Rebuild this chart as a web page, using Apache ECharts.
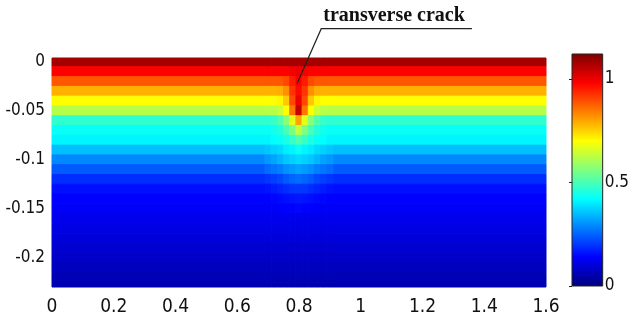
<!DOCTYPE html>
<html>
<head>
<meta charset="utf-8">
<script src="https://cdn.jsdelivr.net/npm/echarts@6/dist/echarts.min.js"></script>
<style>
  html, body { margin: 0; padding: 0; background: #fff; }
  #chart { width: 632px; height: 323px; }
</style>
</head>
<body>
<div id="chart"></div>
<script>
// depth of every row of cells (row centre, y axis)
const depths = [0, -0.01, -0.02, -0.03, -0.04, -0.05, -0.06, -0.07, -0.08, -0.09, -0.1, -0.11,
  -0.12, -0.13, -0.14, -0.15, -0.16, -0.17, -0.18, -0.19, -0.2, -0.21, -0.22, -0.23];
// field value of each row away from the crack
const baseValues = [1.08, 0.98, 0.885, 0.785, 0.7, 0.62, 0.47, 0.43, 0.41, 0.35, 0.29, 0.24,
  0.19, 0.155, 0.14, 0.13, 0.12, 0.11, 0.1, 0.09, 0.08, 0.07, 0.06, 0.055];
// columns around the crack (column centre, x axis)
const crackX = [0.7, 0.72, 0.74, 0.76, 0.78, 0.8, 0.82, 0.84, 0.86, 0.88, 0.9];
// values of those columns, for the first rows (depth 0 .. -0.15)
const crackValues = [
  [1.08, 1.08, 1.08, 1.08, 1.08, 1.08, 1.08, 1.08, 1.08, 1.08, 1.08],
  [0.98, 0.98, 0.98, 0.98, 0.99, 1.0, 0.99, 0.98, 0.98, 0.98, 0.98],
  [0.885, 0.885, 0.885, 0.9, 0.95, 0.98, 0.95, 0.9, 0.885, 0.885, 0.885],
  [0.785, 0.785, 0.79, 0.82, 0.92, 0.97, 0.92, 0.82, 0.79, 0.785, 0.785],
  [0.7, 0.7, 0.71, 0.76, 0.9, 1.0, 0.9, 0.76, 0.71, 0.7, 0.7],
  [0.62, 0.62, 0.64, 0.7, 0.85, 1.04, 0.85, 0.7, 0.64, 0.62, 0.62],
  [0.47, 0.48, 0.51, 0.57, 0.67, 0.8, 0.67, 0.57, 0.51, 0.48, 0.47],
  [0.43, 0.44, 0.46, 0.5, 0.56, 0.63, 0.56, 0.5, 0.46, 0.44, 0.43],
  [0.41, 0.42, 0.43, 0.45, 0.48, 0.51, 0.48, 0.45, 0.43, 0.42, 0.41],
  [0.36, 0.37, 0.38, 0.4, 0.41, 0.43, 0.41, 0.4, 0.38, 0.37, 0.36],
  [0.31, 0.32, 0.34, 0.36, 0.37, 0.38, 0.37, 0.36, 0.34, 0.32, 0.31],
  [0.26, 0.27, 0.28, 0.3, 0.31, 0.32, 0.31, 0.3, 0.28, 0.27, 0.26],
  [0.2, 0.21, 0.22, 0.24, 0.25, 0.26, 0.25, 0.24, 0.22, 0.21, 0.2],
  [0.16, 0.17, 0.18, 0.19, 0.2, 0.2, 0.2, 0.19, 0.18, 0.17, 0.16],
  [0.14, 0.145, 0.15, 0.155, 0.16, 0.165, 0.16, 0.155, 0.15, 0.145, 0.14],
  [0.13, 0.13, 0.135, 0.14, 0.14, 0.145, 0.14, 0.14, 0.135, 0.13, 0.13]
];
const xTicks = [0, 0.2, 0.4, 0.6, 0.8, 1, 1.2, 1.4, 1.6];
const yTicks = [0, -0.05, -0.1, -0.15, -0.2];
const barTicks = [0, 0.5, 1];
const barMax = 1.12;
const crackTip = [0.793, -0.0225];
const labelCorner = [0.872, 0.034];
const labelEnd = [1.36, 0.034];

const jet = ['#00007f', '#0000ff', '#007fff', '#00ffff', '#7fff7f', '#ffff00', '#ff7f00', '#ff0000', '#7f0000'];
const tickFont = "'Liberation Sans Narrow', 'DejaVu Sans Condensed', sans-serif";
const halfW = 0.01, halfH = 0.005;

// cells: [x0, x1, depth, value]
let cells = [];
depths.forEach(function (d, j) {
  let leftEdge = crackX[0] - halfW;
  let rightEdge = crackX[crackX.length - 1] + halfW;
  cells.push([0, leftEdge, d, baseValues[j]]);
  cells.push([rightEdge, 1.6, d, baseValues[j]]);
  crackX.forEach(function (cx, i) {
    let v = j < crackValues.length ? crackValues[j][i] : baseValues[j];
    cells.push([cx - halfW, cx + halfW, d, v]);
  });
});

function renderCell(params, api) {
  let p0 = api.coord([api.value(0), api.value(2) + halfH]);
  let p1 = api.coord([api.value(1), api.value(2) - halfH]);
  let shape = echarts.graphic.clipRectByRect(
    { x: p0[0], y: p0[1], width: p1[0] - p0[0], height: p1[1] - p0[1] },
    { x: params.coordSys.x, y: params.coordSys.y, width: params.coordSys.width, height: params.coordSys.height }
  );
  let color = api.visual('color');
  return shape && { type: 'rect', shape: shape, style: { fill: color, stroke: color, lineWidth: 1 } };
}

let myChart = echarts.init(document.getElementById('chart'));
myChart.setOption({
  backgroundColor: '#fff',
  animation: false,
  grid: [
    { left: 52, top: 58, width: 494, height: 229 },
    // colorbar frame + ticks
    { left: 572, top: 54, width: 35, height: 232, show: true, borderColor: '#222', borderWidth: 1,
      backgroundColor: 'transparent', z: 10 }
  ],
  xAxis: [
    {
      type: 'value', min: 0, max: 1.6, interval: 0.2,
      axisLine: { show: false }, axisTick: { show: false }, splitLine: { show: false },
      axisLabel: { color: '#111', fontSize: 19, fontFamily: tickFont, margin: 11, customValues: xTicks }
    },
    { type: 'value', gridIndex: 1, show: false, min: 0, max: 1 }
  ],
  yAxis: [
    {
      type: 'value', min: -0.23, max: 0.004,
      axisLine: { show: false }, axisTick: { show: false }, splitLine: { show: false },
      axisLabel: { color: '#111', fontSize: 17, fontFamily: tickFont, margin: 7, customValues: yTicks }
    },
    {
      type: 'value', gridIndex: 1, position: 'right', min: 0, max: barMax,
      axisLine: { show: false }, splitLine: { show: false },
      axisTick: { show: true, inside: true, length: 3, lineStyle: { color: '#222' }, customValues: barTicks },
      axisLabel: { color: '#111', fontSize: 17, fontFamily: tickFont, margin: 2, customValues: barTicks }
    }
  ],
  visualMap: {
    type: 'continuous', show: false, min: 0, max: barMax, dimension: 3, seriesIndex: 0,
    inRange: { color: jet }
  },
  series: [
    {
      type: 'custom',
      renderItem: renderCell,
      encode: { x: [0, 1], y: 2 },
      data: cells
    }
  ]
});

// colorbar fill, placed through the colorbar axis
let barTop = myChart.convertToPixel({ xAxisIndex: 1, yAxisIndex: 1 }, [0, barMax]);
let barBottom = myChart.convertToPixel({ xAxisIndex: 1, yAxisIndex: 1 }, [1, 0]);
let stops = jet.map(function (c, i) { return { offset: i / (jet.length - 1), color: c }; });

// annotation: leader from the crack tip up to the underlined label
let tip = myChart.convertToPixel({ gridIndex: 0 }, crackTip);
let corner = myChart.convertToPixel({ gridIndex: 0 }, labelCorner);
let end = myChart.convertToPixel({ gridIndex: 0 }, labelEnd);
myChart.setOption({
  graphic: [
    {
      type: 'rect', z: 5,
      shape: { x: barTop[0], y: barTop[1], width: barBottom[0] - barTop[0], height: barBottom[1] - barTop[1] },
      style: { fill: new echarts.graphic.LinearGradient(0, 1, 0, 0, stops) }
    },
    {
      type: 'polyline', z: 20,
      shape: { points: [tip, corner, end] },
      style: { stroke: '#222', lineWidth: 1.2, fill: null }
    },
    {
      type: 'text', z: 20, x: corner[0] + 2, y: corner[1] - 3,
      style: {
        text: 'transverse crack', fill: '#111',
        font: "bold 20px 'Liberation Serif', 'Times New Roman', serif",
        verticalAlign: 'bottom', align: 'left'
      }
    }
  ]
});
</script>
</body>
</html>
